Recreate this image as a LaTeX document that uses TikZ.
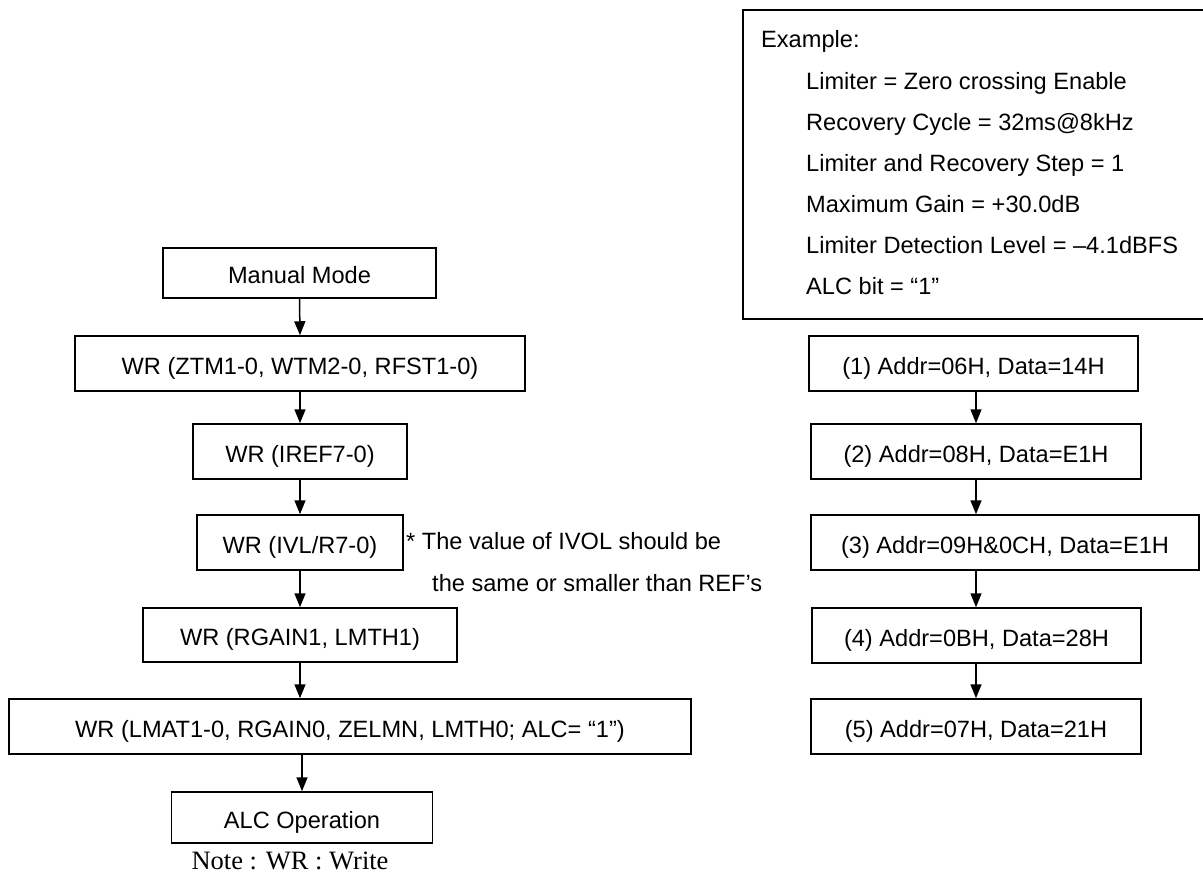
\documentclass[tikz,border=0pt]{standalone}
\usepackage{fontspec}
\setmainfont{Liberation Sans}
\newfontfamily\notefont{Liberation Serif}
\usetikzlibrary{arrows.meta}
\begin{document}
\begin{tikzpicture}[x=1pt,y=-1pt,
  box/.style={draw, line width=1.5pt, inner sep=0pt, text height=21pt, text depth=0pt,
              font=\fontsize{23.6}{28}\selectfont},
  flow/.style={line width=1.5pt, -{Triangle[length=14pt,width=11pt]}},
  txt/.style={inner sep=0pt, anchor=base west, font=\fontsize{23.6}{28}\selectfont}]
\useasboundingbox (0,0) rectangle (1203,875);
% left column
\node[box, minimum width=273pt, minimum height=50pt] (mm)   at (299.5,273)   {Manual Mode};
\node[box, minimum width=450pt, minimum height=55pt] (ztm)  at (300,363.5)   {WR (ZTM1-0, WTM2-0, RFST1-0)};
\node[box, minimum width=214pt, minimum height=55pt] (iref) at (300,451.5)   {WR (IREF7-0)};
\node[box, minimum width=206pt, minimum height=55pt] (ivl)  at (300,542.5)   {WR (IVL/R7-0)};
\node[box, minimum width=314pt, minimum height=54pt] (rg)   at (300,635)     {WR (RGAIN1, LMTH1)};
\node[box, minimum width=682pt, minimum height=55pt] (lmat) at (350,726.5)   {WR (LMAT1-0, RGAIN0, ZELMN, LMTH0; ALC= “1”)};
\node[box, minimum width=261pt, minimum height=51pt] (alc)  at (302,817.5)   {ALC Operation};
\draw[flow] (mm.south) -- (ztm.north);
\draw[flow] (ztm.south) -- (iref.north);
\draw[flow] (iref.south) -- (ivl.north);
\draw[flow] (ivl.south) -- (rg.north);
\draw[flow] (rg.south) -- (rg.south |- lmat.north);
\draw[flow] (lmat.south -| alc.north) -- (alc.north);
\node[txt] (n1) at (406,549) {* The value of IVOL should be};
\node[txt] (n2) at (432,591) {the same or smaller than REF’s};
\node[inner sep=0pt, anchor=base, font=\notefont\fontsize{26.5}{30}\selectfont] (note) at (290,869) {Note : WR : Write};
% example box
\draw[line width=1.5pt] (1203,10) -- (743,10) -- (743,319) -- (1203,319);
\node[txt] (e0) at (761,48)  {Example:};
\node[txt] (e1) at (806,89)  {Limiter = Zero crossing Enable};
\node[txt] (e2) at (806,130) {Recovery Cycle = 32ms@8kHz};
\node[txt] (e3) at (806,171) {Limiter and Recovery Step = 1};
\node[txt] (e4) at (806,212) {Maximum Gain = +30.0dB};
\node[txt] (e5) at (806,253) {Limiter Detection Level = –4.1dBFS};
\node[txt] (e6) at (806,294) {ALC bit = “1”};
% right column
\node[box, minimum width=329pt, minimum height=55pt] (b1) at (973.5,363.5) {(1) Addr=06H, Data=14H};
\node[box, minimum width=330pt, minimum height=55pt] (b2) at (976,451.5)   {(2) Addr=08H, Data=E1H};
\node[box, minimum width=388pt, minimum height=55pt] (b3) at (1005,542.5)  {(3) Addr=09H\&0CH, Data=E1H};
\node[box, minimum width=329pt, minimum height=55pt] (b4) at (976.5,635.5) {(4) Addr=0BH, Data=28H};
\node[box, minimum width=330pt, minimum height=55pt] (b5) at (976,726.5)   {(5) Addr=07H, Data=21H};
\draw[flow] (b2.north |- b1.south) -- (b2.north);
\draw[flow] (b2.south) -- (b2.south |- b3.north);
\draw[flow] (b2.south |- b3.south) -- (b2.south |- b4.north);
\draw[flow] (b2.south |- b4.south) -- (b2.south |- b5.north);
\end{tikzpicture}
\end{document}
